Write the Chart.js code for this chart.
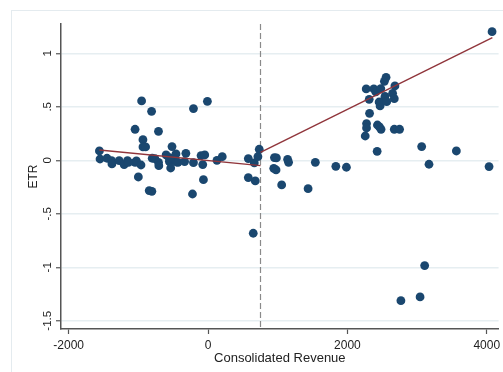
<!DOCTYPE html>
<html>
<head>
<meta charset="utf-8">
<script src="https://cdn.jsdelivr.net/npm/chart.js@4"></script>
<style>
  html, body { margin: 0; padding: 0; background: #fff; overflow: hidden; }
  #frame { position: absolute; left: 11px; top: 10px; width: 600px; height: 600px; border: 1px solid #e4ebef; }
  #wrap { position: absolute; left: 0; top: 0; width: 503px; height: 372px; }
</style>
</head>
<body>
<div id="frame"></div>
<div id="wrap"><canvas id="chart" width="503" height="372"></canvas></div>
<script>
// observations: consolidated revenue (x) and ETR (y)
const revenue = [
  -1559, -1550, -1450, -1384, -1379, -1275, -1204, -1156, -1142, -1047, -1028, -1000, -962,
  -1047, -953, -934, -934, -896, -844, -806, -810, -801, -763, -711, -711, -706,
  -602, -564, -555, -536, -517, -517, -460, -455, -431, -336, -318, -223, -209, -209,
  -100, -76, -66, -47, -9, 128, 204,
  578, 578, 649, 664, 678, 716, 735,
  953, 981, 943, 976, 1057, 1142, 1156, 1436, 1540, 1834, 1986,
  2256, 2270, 2275, 2275, 2313, 2318, 2379, 2408, 2427, 2431, 2455, 2460, 2479, 2483, 2469,
  2493, 2531, 2540, 2555, 2564, 2649, 2673, 2682, 2673, 2749,
  2768, 3043, 3066, 3109, 3171, 3564, 4033, 4076
];
const etr = [
  0.087, 0.012, 0.019, -0.003, -0.034, -0.003, -0.040, -0.003, -0.019, -0.019, -0.006, -0.156, -0.044,
  0.290, 0.555, 0.193, 0.125, 0.125, -0.283, -0.290, 0.458, 0.019, 0.016, 0.271, -0.019, -0.050,
  0.050, 0.028, -0.012, -0.072, 0.128, 0.019, 0.059, -0.016, -0.019, -0.012, 0.065, -0.315, 0.483, -0.022,
  0.044, -0.040, -0.181, 0.050, 0.551, 0.000, 0.034,
  0.016, -0.162, -0.682, -0.025, -0.193, 0.034, 0.103,
  0.025, 0.022, -0.075, -0.090, -0.230, 0.009, -0.019, -0.265, -0.019, -0.056, -0.065,
  0.227, 0.667, 0.343, 0.302, 0.570, 0.439, 0.667, 0.639, 0.084, 0.330, 0.545, 0.312, 0.670, 0.290, 0.508,
  0.545, 0.738, 0.598, 0.776, 0.548, 0.626, 0.576, 0.695, 0.290, 0.290,
  -1.312, -1.277, 0.128, -0.984, -0.037, 0.087, -0.059, 1.202
];

// fitted lines on each side of the cutoff
const cutoff = 753;
const fitLeftX = [-1560, 753];
const fitLeftY = [0.096, -0.050];
const fitRightX = [753, 4081];
const fitRightY = [0.075, 1.146];

// axis ranges and ticks
const xMin = -2110, xMax = 4170;
const yMin = -1.577, yMax = 1.274;
const xTicks = [-2000, 0, 2000, 4000];
const yTicks = [-1.5, -1, -0.5, 0, 0.5, 1];
const yTickLabels = ['-1.5', '-1', '-.5', '0', '.5', '1'];

const navy = '#1a476f';
const maroon = '#90353b';
const axisCol = '#555555';

const pts = revenue.map((x, i) => ({ x: x, y: etr[i] }));
const toXY = (xs, ys) => xs.map((x, i) => ({ x: x, y: ys[i] }));

new Chart(document.getElementById('chart'), {
    type: 'scatter',
    data: {
        datasets: [
            {
                type: 'line',
                data: [{ x: cutoff, y: yMax }, { x: cutoff, y: yMin }],
                borderColor: '#8a8a8a',
                borderWidth: 1.2,
                borderDash: [6, 3],
                pointRadius: 0,
                order: 3
            },
            {
                data: pts,
                backgroundColor: navy,
                borderColor: navy,
                borderWidth: 0,
                pointRadius: 4.4,
                order: 2
            },
            {
                type: 'line',
                data: toXY(fitLeftX, fitLeftY),
                borderColor: maroon,
                borderWidth: 1.4,
                pointRadius: 0,
                order: 1
            },
            {
                type: 'line',
                data: toXY(fitRightX, fitRightY),
                borderColor: maroon,
                borderWidth: 1.4,
                pointRadius: 0,
                order: 1
            }
        ]
    },
    options: {
        responsive: false,
        animation: false,
        layout: { padding: { top: 24, left: 0, right: 0, bottom: 0 } },
        plugins: { legend: { display: false }, tooltip: { enabled: false } },
        scales: {
            x: {
                type: 'linear',
                min: xMin,
                max: xMax,
                afterBuildTicks: s => { s.ticks = xTicks.map(v => ({ value: v })); },
                afterFit: s => { s.height = 43; s.paddingLeft = 0; s.paddingRight = 0; },
                grid: { drawOnChartArea: false, drawTicks: true, tickLength: 5, tickColor: axisCol, tickWidth: 1.2 },
                border: { color: axisCol, width: 1.5 },
                ticks: {
                    color: '#222',
                    padding: 4,
                    maxRotation: 0,
                    autoSkip: false,
                    font: { family: 'Liberation Sans', size: 12 },
                    callback: v => String(v)
                },
                title: {
                    display: true,
                    text: 'Consolidated Revenue',
                    color: '#222',
                    font: { family: 'Liberation Sans', size: 13 },
                    padding: { top: 0, bottom: 6 }
                }
            },
            y: {
                type: 'linear',
                min: yMin,
                max: yMax,
                afterBuildTicks: s => { s.ticks = yTicks.map(v => ({ value: v })); },
                afterFit: s => { s.width = 61; s.paddingTop = 0; s.paddingBottom = 0; },
                grid: { color: '#e6eef1', lineWidth: 1.5, drawTicks: true, tickLength: 5, tickColor: axisCol, tickWidth: 1.2 },
                border: { color: axisCol, width: 1.5 },
                ticks: {
                    color: '#222',
                    padding: -2,
                    minRotation: 90,
                    maxRotation: 90,
                    crossAlign: 'center',
                    autoSkip: false,
                    font: { family: 'Liberation Sans', size: 11.5 },
                    callback: v => yTickLabels[yTicks.indexOf(v)]
                },
                title: {
                    display: true,
                    text: 'ETR',
                    color: '#222',
                    font: { family: 'Liberation Sans', size: 12 },
                    padding: { top: 26, bottom: 0 }
                }
            }
        }
    }
});
</script>
</body>
</html>
